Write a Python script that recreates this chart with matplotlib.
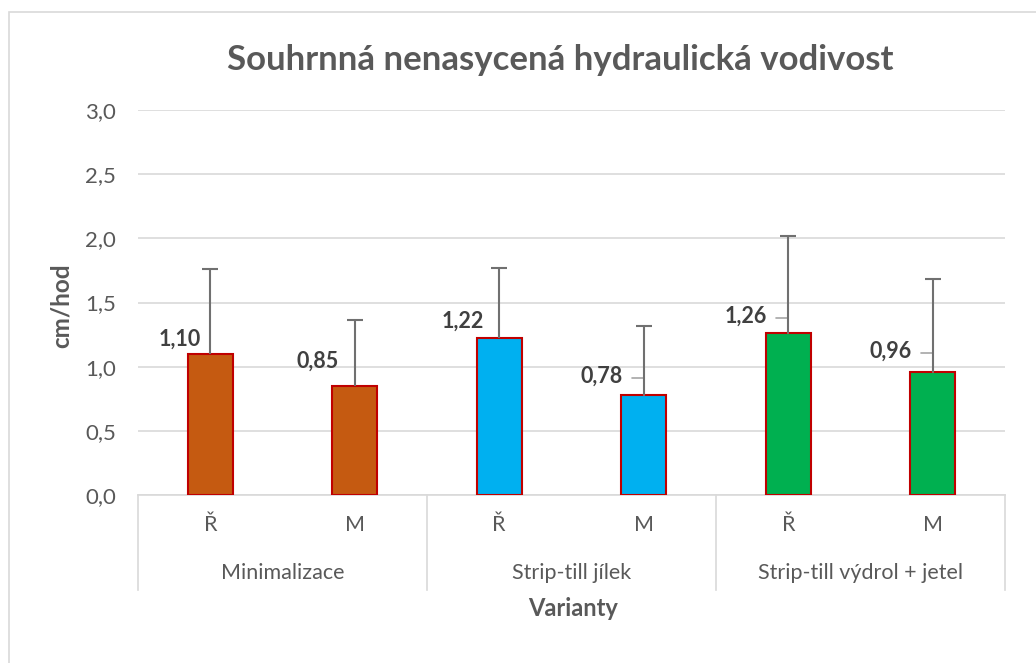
import numpy as np
import matplotlib.pyplot as plt
from matplotlib.patches import Rectangle
from matplotlib.transforms import blended_transform_factory

plt.rcParams['font.family'] = ['Lato', 'DejaVu Sans']

# data
skupiny = ['Minimalizace', 'Strip-till jílek', 'Strip-till výdrol + jetel']
varianty = ['Ř', 'M', 'Ř', 'M', 'Ř', 'M']
hodnoty = [1.10, 0.85, 1.22, 0.78, 1.26, 0.96]
chyby = [0.66, 0.51, 0.55, 0.54, 0.76, 0.72]
barvy = ['#c55a11', '#c55a11', '#00b0f0', '#00b0f0', '#00b050', '#00b050']
popisky = ['1,10', '0,85', '1,22', '0,78', '1,26', '0,96']

# pozice popisku (px) vuci vrcholu sloupce, a zda ma vodici caru
posuny = [(-9, 15), (-16, 25), (-15, 17), (-21, 19), (-21, 17), (-21, 21)]
vodici = [False, False, False, True, True, True]

seda = '#595959'
fig = plt.figure(figsize=(10.36, 6.63), dpi=100)
ax = fig.add_axes([138 / 1036, 1 - 495 / 663, 867 / 1036, 385 / 663])

# ramecek grafu
fig.patches.append(Rectangle((9 / 1036, -0.05), 1.2, 1 - 12 / 663 + 0.05,
                             transform=fig.transFigure, fill=False,
                             edgecolor='#d9d9d9', lw=1.2))

x = np.arange(len(hodnoty))
ax.bar(x, hodnoty, width=0.31, color=barvy, edgecolor='#c00000', lw=1.5, zorder=3)

# chybove useky jen nahoru (bez spodni krytky)
horni = np.array(hodnoty) + np.array(chyby)
ax.vlines(x, hodnoty, horni, color='#707070', lw=1.5, zorder=4)
ax.plot(x, horni, ls='none', marker='_', markersize=11, mew=1.5,
        color='#707070', zorder=4)

for xi, v, txt, (dx, dy), ld in zip(x, hodnoty, popisky, posuny, vodici):
    ax.annotate(txt, (xi, v), xytext=(dx, dy), textcoords='offset pixels',
                ha='right', va='center', fontsize=15.5, fontweight='bold',
                color='#404040', zorder=5)
    if ld:
        ax.annotate('', (xi, v), xytext=(dx + 9, dy - 2), textcoords='offset pixels',
                    arrowprops=dict(arrowstyle='-', color='#a6a6a6', lw=1.2,
                                    shrinkA=0, shrinkB=0,
                                    connectionstyle='angle,angleA=0,angleB=90,rad=0'))

ax.set_ylim(0, 3)
ax.set_xlim(-0.5, len(hodnoty) - 0.5)
ax.set_yticks(np.arange(0, 3.01, 0.5))
ax.set_yticklabels([f'{t:.1f}'.replace('.', ',') for t in np.arange(0, 3.01, 0.5)])
ax.tick_params(axis='y', length=0, pad=16, labelsize=16, labelcolor=seda)
ax.set_xticks([])
ax.grid(axis='y', color='#d9d9d9', lw=1.2, zorder=0)
for s in ['left', 'right', 'top']:
    ax.spines[s].set_visible(False)
ax.spines['bottom'].set_color('#d9d9d9')
ax.spines['bottom'].set_linewidth(1.2)

# kategoriova osa ve dvou urovnich
tr = blended_transform_factory(ax.transData, ax.transAxes)
for xi, lab in zip(x, varianty):
    ax.text(xi, -0.078, lab, transform=tr, ha='center', va='center',
            fontsize=15.5, color=seda)
for i, g in enumerate(skupiny):
    ax.text(2 * i + 0.5, -0.203, g, transform=tr, ha='center', va='center',
            fontsize=15.5, color=seda)
for b in [-0.5, 1.5, 3.5, 5.5]:
    ax.plot([b, b], [0, -0.247], transform=tr, color='#d9d9d9', lw=1.2,
            clip_on=False)

fig.text(573 / 1036, 1 - 609 / 663, 'Varianty', ha='center', va='center',
         fontsize=17, fontweight='bold', color=seda)
fig.text(61 / 1036, 1 - 306 / 663, 'cm/hod', ha='center', va='center',
         rotation=90, fontsize=17.5, fontweight='bold', color=seda)
fig.text(560 / 1036, 1 - 60 / 663, 'Souhrnná nenasycená hydraulická vodivost',
         ha='center', va='center', fontsize=25, fontweight='bold', color=seda)

fig.savefig('out.png', dpi=100)
